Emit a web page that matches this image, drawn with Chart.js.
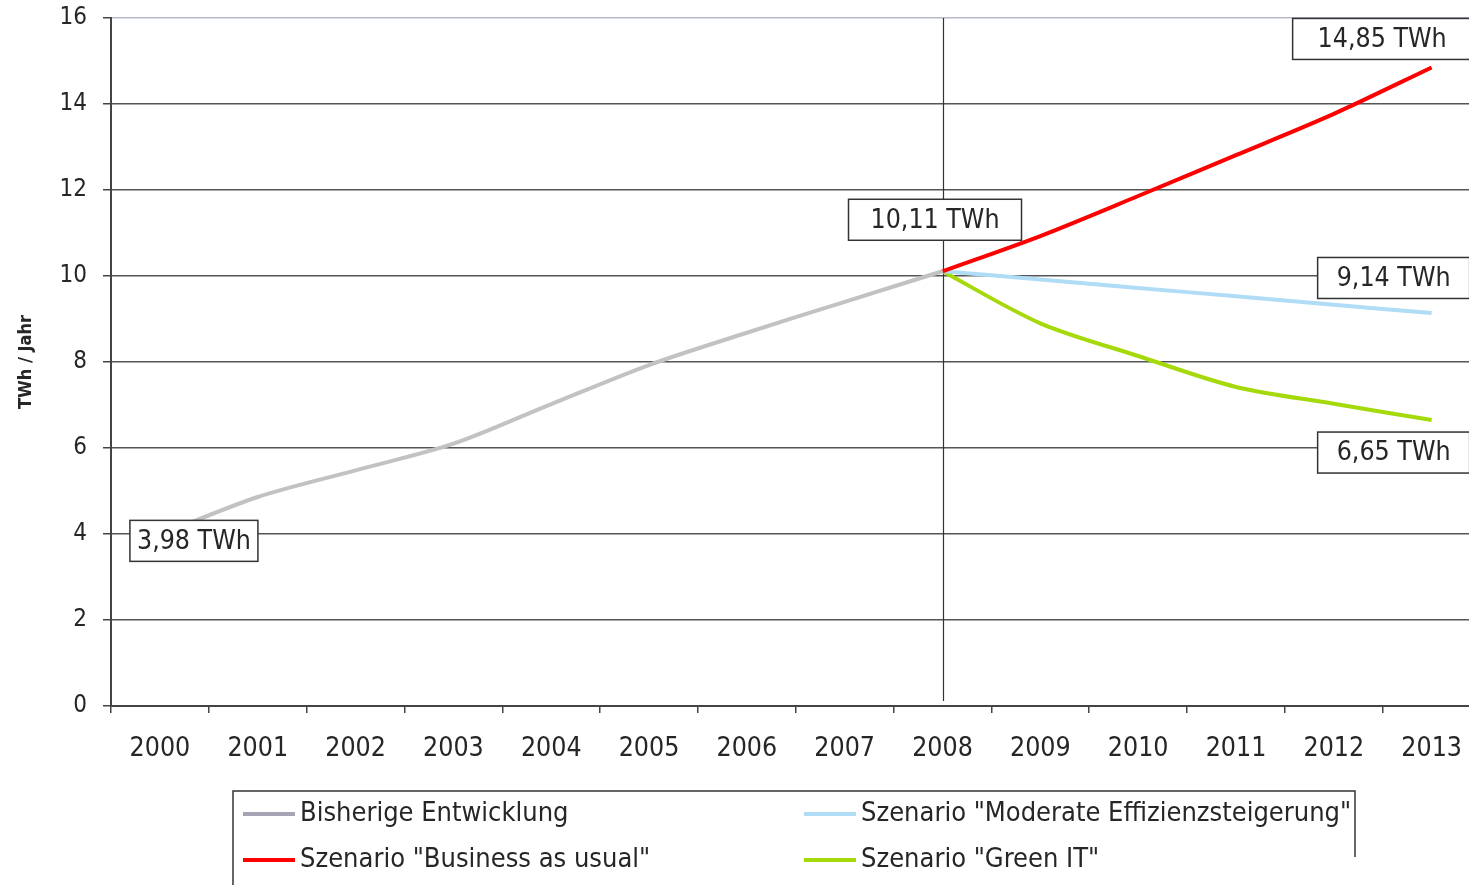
<!DOCTYPE html>
<html>
<head>
<meta charset="utf-8">
<title>Stromverbrauch TWh / Jahr</title>
<script src="https://cdn.jsdelivr.net/npm/chart.js@4.4.1/dist/chart.umd.min.js"></script>
<style>
    html, body { margin: 0; padding: 0; background: #fff; overflow: hidden; }
    #wrap { position: relative; width: 1482px; height: 885px; }
</style>
</head>
<body>
<div id="wrap"><canvas id="energyChart" width="1482" height="885"></canvas></div>
<script>
// --- Données ---
const years = ['2000', '2001', '2002', '2003', '2004', '2005', '2006', '2007',
               '2008', '2009', '2010', '2011', '2012', '2013'];

const bisherigeEntwicklung = [3.98, 4.86, 5.48, 6.10, 7.02, 7.93, 8.68, 9.40, 10.11,
                              null, null, null, null, null];
const businessAsUsual = [null, null, null, null, null, null, null, null,
                         10.11, 10.93, 11.86, 12.81, 13.77, 14.85];
const moderateEffizienz = [null, null, null, null, null, null, null, null,
                           10.11, 9.92, 9.72, 9.53, 9.33, 9.14];
const greenIT = [null, null, null, null, null, null, null, null,
                 10.11, 8.90, 8.14, 7.42, 7.03, 6.65];

const seriesLabels = ['Bisherige Entwicklung', 'Szenario "Business as usual"',
                      'Szenario "Moderate Effizienzsteigerung"', 'Szenario "Green IT"'];
const seriesColors = ['#c2c2c2', '#ff0000', '#b0dcf6', '#a6d90a'];
const legendSwatch = ['#a4a4b4', '#ff0000', '#b0dcf6', '#a6d90a'];

const yMin = 0, yMax = 16, yStep = 2;
const splitYear = '2008';

const FONT = "'DejaVu Sans Condensed', 'DejaVu Sans', sans-serif";
const INK = '#262626';

// --- Plugins ---

// vertical line marking the start of the scenarios
const splitLine = {
    id: 'splitLine',
    beforeDatasetsDraw(chart) {
        const { ctx, chartArea, scales } = chart;
        const x = Math.round(scales.x.getPixelForValue(years.indexOf(splitYear))) + 0.5;
        ctx.save();
        ctx.strokeStyle = '#333';
        ctx.lineWidth = 1.2;
        ctx.beginPath();
        ctx.moveTo(x, chartArea.top);
        ctx.lineTo(x, chartArea.bottom - 5);
        ctx.stroke();
        ctx.restore();
    }
};

// boxed value labels next to selected points
const callouts = {
    id: 'callouts',
    afterDatasetsDraw(chart, args, opts) {
        const { ctx } = chart;
        ctx.save();
        ctx.font = `26.5px ${FONT}`;
        ctx.textAlign = 'center';
        ctx.textBaseline = 'middle';
        opts.items.forEach(item => {
            const pt = chart.getDatasetMeta(item.dataset).data[item.index];
            const value = chart.data.datasets[item.dataset].data[item.index];
            const text = value.toFixed(2).replace('.', ',') + ' TWh';
            const cx = pt.x + item.dx;
            const cy = pt.y + item.dy;
            const h = 41;
            ctx.fillStyle = '#fff';
            ctx.fillRect(cx - item.w / 2, cy - h / 2, item.w, h);
            ctx.strokeStyle = '#333';
            ctx.lineWidth = 1.5;
            ctx.strokeRect(cx - item.w / 2, cy - h / 2, item.w, h);
            ctx.fillStyle = INK;
            ctx.fillText(text, cx, cy + 1);
        });
        ctx.restore();
    }
};

// two-column legend in a framed box under the axis
const boxLegend = {
    id: 'boxLegend',
    afterDraw(chart, args, opts) {
        const { ctx } = chart;
        const b = opts.box;
        ctx.save();
        ctx.strokeStyle = '#333';
        ctx.lineWidth = 1.5;
        ctx.strokeRect(b.x, b.y, b.w, b.h);

        ctx.font = `27px ${FONT}`;
        ctx.textAlign = 'left';
        ctx.textBaseline = 'middle';
        chart.data.datasets.forEach((ds, i) => {
            const col = Math.floor(i / 2);
            const row = i % 2;
            const x = opts.columns[col];
            const y = opts.rows[row];
            ctx.strokeStyle = legendSwatch[i];
            ctx.lineWidth = 4;
            ctx.beginPath();
            ctx.moveTo(x, y);
            ctx.lineTo(x + opts.swatch, y);
            ctx.stroke();
            ctx.fillStyle = INK;
            ctx.fillText(ds.label, x + opts.swatch + 5, y);
        });

        // white patch over the lower right corner of the frame
        ctx.fillStyle = '#fff';
        ctx.fillRect(1277, 857, 220, 40);
        ctx.restore();
    }
};

// --- Graphique ---
const makeSet = (data, i) => ({
    label: seriesLabels[i],
    data: data,
    borderColor: seriesColors[i],
    backgroundColor: seriesColors[i],
    borderWidth: 4,
    pointRadius: 0,
    tension: 0.3,
    fill: false,
    spanGaps: false
});

new Chart(document.getElementById('energyChart'), {
    type: 'line',
    data: {
        labels: years,
        datasets: [
            makeSet(bisherigeEntwicklung, 0),
            makeSet(businessAsUsual, 1),
            makeSet(moderateEffizienz, 2),
            makeSet(greenIT, 3)
        ]
    },
    options: {
        responsive: false,
        animation: false,
        layout: { padding: { top: 18, right: 1, left: 0, bottom: 0 } },
        scales: {
            x: {
                type: 'category',
                offset: true,
                grid: {
                    display: true,
                    drawOnChartArea: false,
                    drawTicks: true,
                    tickLength: 7,
                    color: '#444',
                    lineWidth: 1.5,
                    offset: true
                },
                border: { color: '#444', width: 2 },
                ticks: {
                    color: INK,
                    font: { family: FONT, size: 26.5 },
                    padding: 20,
                    maxRotation: 0,
                    autoSkip: false
                },
                afterFit: (scale) => { scale.height = 179; }
            },
            y: {
                min: yMin,
                max: yMax,
                grid: {
                    color: (c) => c.tick && c.tick.value === yMax ? '#b6b9cc' : '#555',
                    tickColor: '#444',
                    lineWidth: 1.5,
                    tickLength: 8
                },
                border: { color: '#444', width: 2 },
                ticks: {
                    stepSize: yStep,
                    color: INK,
                    font: { family: FONT, size: 24 },
                    padding: 16
                },
                title: {
                    display: true,
                    text: 'TWh / Jahr',
                    color: INK,
                    font: { family: FONT, size: 18, weight: 'bold' },
                    padding: { top: 16, bottom: 0 }
                },
                afterFit: (scale) => {
                    scale.width = 111;
                    // keep the plot top fixed by the layout padding only
                    scale.paddingTop = 0;
                    scale.paddingBottom = 0;
                }
            }
        },
        plugins: {
            legend: { display: false },
            tooltip: { enabled: false },
            callouts: {
                items: [
                    { dataset: 0, index: 0, dx: 34, dy: 6, w: 128 },
                    { dataset: 0, index: 8, dx: -7.5, dy: -51.5, w: 173 },
                    { dataset: 1, index: 13, dx: -49.5, dy: -28.5, w: 179 },
                    { dataset: 2, index: 13, dx: -38, dy: -35, w: 152 },
                    { dataset: 3, index: 13, dx: -38, dy: 32.5, w: 152 }
                ]
            },
            boxLegend: {
                box: { x: 233, y: 791, w: 1122, h: 110 },
                columns: [243, 804],
                rows: [814, 860],
                swatch: 52
            }
        }
    },
    plugins: [splitLine, callouts, boxLegend]
});
</script>
</body>
</html>
